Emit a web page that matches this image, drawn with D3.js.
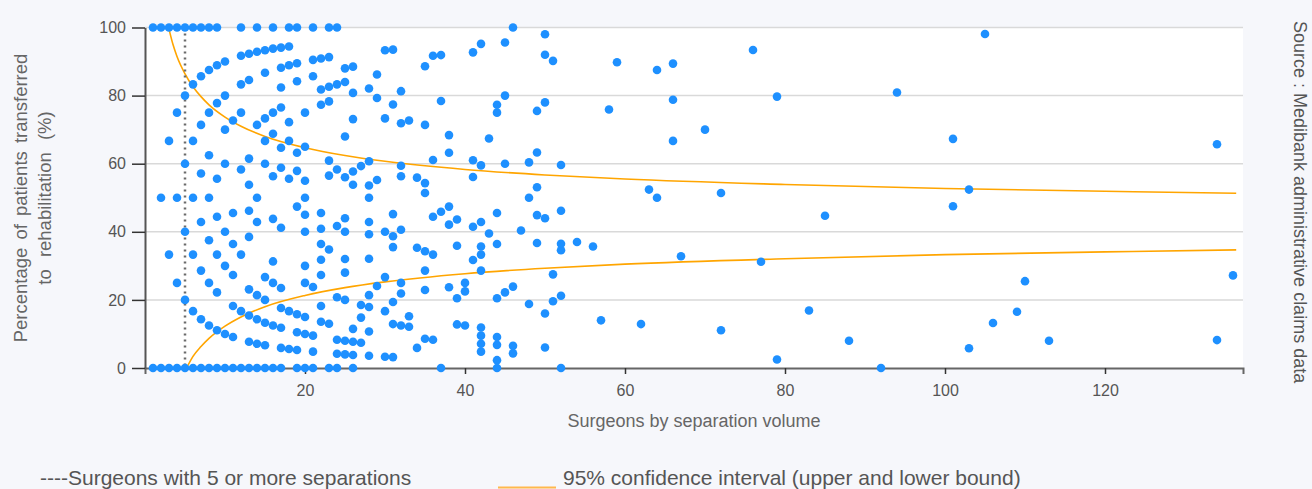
<!DOCTYPE html>
<html>
<head>
<meta charset="utf-8">
<script src="https://cdn.jsdelivr.net/npm/d3@7"></script>
<style>
  body { margin: 0; background: #f6f7fb; }
  svg { display: block; font-family: "Liberation Sans", Arial, sans-serif; }
</style>
</head>
<body>
<svg id="chart" width="1312" height="489"></svg>
<script>
// surgeons whose every patient (100%) or no patient (0%) went to rehab, by volume
const fullTransfer = [1, 2, 3, 4, 5, 6, 7, 8, 9, 12, 14, 16, 18, 19, 21, 23, 24, 46]
const noTransfer = [1, 2, 3, 4, 5, 6, 7, 8, 9, 10, 11, 12, 13, 14, 15, 16, 17, 19, 20, 21, 23, 24, 26, 37, 44, 52, 92]

// [volume, [rates %]]
const lowVolume = [
  [2, [50]],
  [3, [33.3, 66.7]],
  [4, [25, 50, 75]],
  [5, [20, 40, 60, 80]],
  [6, [16.7, 33.3, 50, 66.7, 83.3]],
  [7, [14.3, 28.6, 42.9, 57.1, 71.4, 85.7]],
  [8, [12.5, 25, 37.5, 50, 62.5, 75, 87.5]],
  [9, [11.1, 22.2, 33.3, 44.4, 55.6, 77.8, 88.9]],
  [10, [10, 30, 40, 60, 70, 80, 90]],
  [11, [9.1, 18.2, 27.3, 36.4, 45.5, 72.7]],
  [12, [16.7, 33.3, 58.3, 75, 83.3, 91.7]],
  [13, [7.7, 15.4, 23.1, 38.5, 46.2, 53.8, 61.5, 84.6, 92.3]],
  [14, [7.1, 14.3, 21.4, 42.9, 50, 71.4, 92.9]],
  [15, [6.7, 13.3, 20, 26.7, 60, 66.7, 73.3, 86.7, 93.3]],
  [16, [12.5, 25, 31.3, 43.8, 56.3, 68.8, 75, 93.8]],
  [17, [5.9, 11.8, 17.6, 23.5, 41.2, 58.8, 64.7, 76.5, 82.4, 88.2, 94.1]],
  [18, [5.6, 16.7, 55.6, 66.7, 72.2, 88.9, 94.4]],
  [19, [5.3, 10.5, 15.8, 47.4, 57.9, 63.2, 84.2, 89.5]],
  [20, [10, 15, 25, 30, 40, 45, 50, 55, 65, 75]],
  [21, [4.8, 9.5, 23.8, 85.7, 90.5]],
  [22, [13.6, 18.2, 27.3, 31.8, 36.4, 40.9, 45.5, 77.3, 81.8, 90.9]],
  [23, [13.0, 34.8, 56.5, 60.9, 78.3, 82.6, 91.3]],
  [24, [4.2, 8.3, 20.8, 41.7, 58.3, 83.3]]
]

const midVolume = [
  [25, [4, 8, 20, 28, 32, 40, 44, 56, 68, 84, 88]],
  [26, [3.8, 7.7, 11.5, 53.8, 57.7, 73.1, 80.8, 88.5]],
  [27, [7.4, 14.8, 18.5, 59.3]],
  [28, [3.6, 10.7, 17.9, 21.4, 32.1, 39.3, 42.9, 50, 53.6, 60.7, 82.1]],
  [29, [24.1, 55.2, 79.3, 86.2]],
  [30, [3.3, 16.7, 26.7, 40, 73.3, 93.3]],
  [31, [3.2, 12.9, 19.4, 35.5, 38.7, 45.2, 77.4, 93.5]],
  [32, [12.5, 21.9, 25, 40.6, 56.3, 59.4, 71.9, 81.3]],
  [33, [12.1, 15.2, 72.7]],
  [34, [5.9, 35.3, 55.9]],
  [35, [8.6, 22.9, 28.6, 34.3, 51.4, 54.3, 71.4, 88.6]],
  [36, [8.3, 33.3, 44.4, 61.1, 91.7]],
  [37, [45.9, 78.4, 91.9]],
  [38, [23.7, 42.1, 47.4, 63.2, 68.4]],
  [39, [12.8, 20.5, 35.9, 43.6]],
  [40, [12.5, 22.5, 25]],
  [41, [31.7, 41.5, 56.1, 61, 92.7]],
  [42, [4.8, 7.1, 9.5, 11.9, 28.6, 33.3, 35.7, 42.9, 59.5, 95.2]],
  [43, [39.5, 67.4]],
  [44, [2.3, 6.8, 9.1, 20.5, 36.4, 45.5, 75, 77.3]],
  [45, [22.2, 60, 80, 95.6]],
  [46, [4.3, 6.5, 23.9]],
  [47, [40.4]],
  [48, [18.8, 50, 60.4]],
  [49, [36.7, 44.9, 53.1, 63.3, 75.5]],
  [50, [6, 16, 44, 78, 92, 98]],
  [51, [19.6, 27.5, 90.2]],
  [52, [21.2, 34.6, 36.5, 46.2, 59.6]]
]

const highVolume = [
  [54, [37]], [56, [35.7]], [57, [14]], [58, [75.9]], [59, [89.8]],
  [62, [12.9]], [63, [52.4]], [64, [50, 87.5]], [66, [66.7, 78.8, 89.4]],
  [67, [32.8]], [70, [70]], [72, [11.1, 51.4]], [76, [93.4]], [77, [31.2]],
  [79, [2.5, 79.7]], [83, [16.9]], [85, [44.7]], [88, [8]], [94, [80.9]],
  [101, [47.5, 67.3]], [103, [5.8, 52.4]], [105, [98.1]], [106, [13.2]],
  [109, [16.5]], [110, [25.5]], [113, [8]], [134, [8.2, 65.7]], [136, [27.2]]
]

// 95% confidence interval, [volume, %]
const upperBound = [[2.95, 100], [3.5, 95], [4, 91.5], [5, 86.4], [6, 82.6], [7, 79.7], [8, 77.3],
  [10, 73.7], [12, 71], [15, 68], [20, 64.7], [25, 62.4], [30, 60.7], [40, 58.3], [50, 56.7],
  [60, 55.5], [80, 53.9], [100, 52.7], [120, 51.9], [136.4, 51.3]]
const lowerBound = [[5.2, 0], [6, 3.4], [7, 6.3], [8, 8.7], [10, 12.3], [12, 15], [15, 18],
  [20, 21.3], [25, 23.6], [30, 25.3], [40, 27.7], [50, 29.3], [60, 30.5], [80, 32.1],
  [100, 33.3], [120, 34.1], [136.4, 34.7]]

const cutoff = 5
const xTicks = [20, 40, 60, 80, 100, 120]
const yTicks = [0, 20, 40, 60, 80, 100]

const width = 1312
const height = 489
const margin = {top: 27.5, right: 69, bottom: 121, left: 145}

const x = d3.scaleLinear()
    .domain([0, 137.25])
    .range([margin.left, width - margin.right])

const y = d3.scaleLinear()
    .domain([0, 100])
    .range([height - margin.bottom, margin.top])

const svg = d3.select('#chart')

svg.append('rect')
    .attr('width', width).attr('height', height)
    .attr('fill', '#f6f7fb')

svg.append('rect')
    .attr('x', x(0)).attr('y', y(100))
    .attr('width', x.range()[1] - x(0)).attr('height', y(0) - y(100))
    .attr('fill', '#fff')

// gridlines
svg.append('g')
  .selectAll('line')
  .data(yTicks.filter(d => d > 0))
  .join('line')
    .attr('x1', x(0)).attr('x2', x.range()[1])
    .attr('y1', d => y(d)).attr('y2', d => y(d))
    .attr('stroke', '#d9d9d9')
    .attr('stroke-width', 1.5)

const xAxis = svg.append('g')
    .attr('transform', `translate(0,${y(0)})`)
    .call(d3.axisBottom(x).tickValues(xTicks).tickSize(6).tickPadding(11))
xAxis.select('.domain').attr('stroke', '#666').attr('stroke-width', 2)

const yAxis = svg.append('g')
    .attr('transform', `translate(${x(0)},0)`)
    .call(d3.axisLeft(y).tickValues(yTicks).tickSize(13).tickSizeOuter(0).tickPadding(6))
yAxis.select('.domain').attr('stroke', '#555').attr('stroke-width', 2)

svg.selectAll('.tick line').attr('stroke', '#333').attr('stroke-width', 1.5)
svg.selectAll('.tick text')
    .attr('fill', '#555')
    .style('font-size', '16px')
    .style('font-family', '"Liberation Sans", Arial, sans-serif')

// CI curves
const line = d3.line()
    .x(d => x(d[0]))
    .y(d => y(d[1]))
    .curve(d3.curveMonotoneX)

svg.selectAll('path.ci')
  .data([upperBound, lowerBound])
  .join('path')
    .attr('class', 'ci')
    .attr('d', line)
    .attr('fill', 'none')
    .attr('stroke', '#ffa500')
    .attr('stroke-width', 1.6)

// 5 separations cutoff
svg.append('line')
    .attr('x1', x(cutoff)).attr('x2', x(cutoff))
    .attr('y1', y(100)).attr('y2', y(0))
    .attr('stroke', '#6b6b6b')
    .attr('stroke-width', 2.5)
    .attr('stroke-dasharray', '2,4')

const points = [
  ...fullTransfer.map(v => [v, 100]),
  ...noTransfer.map(v => [v, 0]),
  ...[...lowVolume, ...midVolume, ...highVolume].flatMap(([v, rates]) => rates.map(r => [v, r]))
]

svg.append('g')
  .selectAll('circle')
  .data(points)
  .join('circle')
    .attr('cx', d => x(d[0]))
    .attr('cy', d => y(d[1]))
    .attr('r', 4.3)
    .attr('fill', '#1e90ff')

// titles
svg.append('text')
    .attr('x', (x(0) + x.range()[1]) / 2)
    .attr('y', 427)
    .attr('text-anchor', 'middle')
    .attr('fill', '#666')
    .style('font-size', '18px')
    .text('Surgeons by separation volume')

const yTitle = svg.append('text')
    .attr('transform', 'translate(0,198) rotate(-90)')
    .attr('text-anchor', 'middle')
    .attr('fill', '#666')
    .style('font-size', '18.5px')
yTitle.append('tspan').attr('x', 0).attr('y', 27)
    .style('word-spacing', '3px')
    .text('Percentage of patients transferred')
yTitle.append('tspan').attr('x', 0).attr('y', 51)
    .style('word-spacing', '7px')
    .text('to rehabilitation (%)')

svg.append('text')
    .attr('transform', 'translate(1294,21) rotate(90)')
    .attr('fill', '#555')
    .style('font-size', '18px')
    .text('Source : Medibank administrative claims data')

// legend
svg.append('text')
    .attr('x', 40).attr('y', 485)
    .attr('fill', '#555')
    .style('font-size', '21px')
    .text('----Surgeons with 5 or more separations')

svg.append('line')
    .attr('x1', 498).attr('x2', 556)
    .attr('y1', 487.5).attr('y2', 487.5)
    .attr('stroke', '#ffb84d')
    .attr('stroke-width', 2)

svg.append('text')
    .attr('x', 563).attr('y', 485)
    .attr('fill', '#555')
    .style('font-size', '21px')
    .text('95% confidence interval (upper and lower bound)')
</script>
</body>
</html>
